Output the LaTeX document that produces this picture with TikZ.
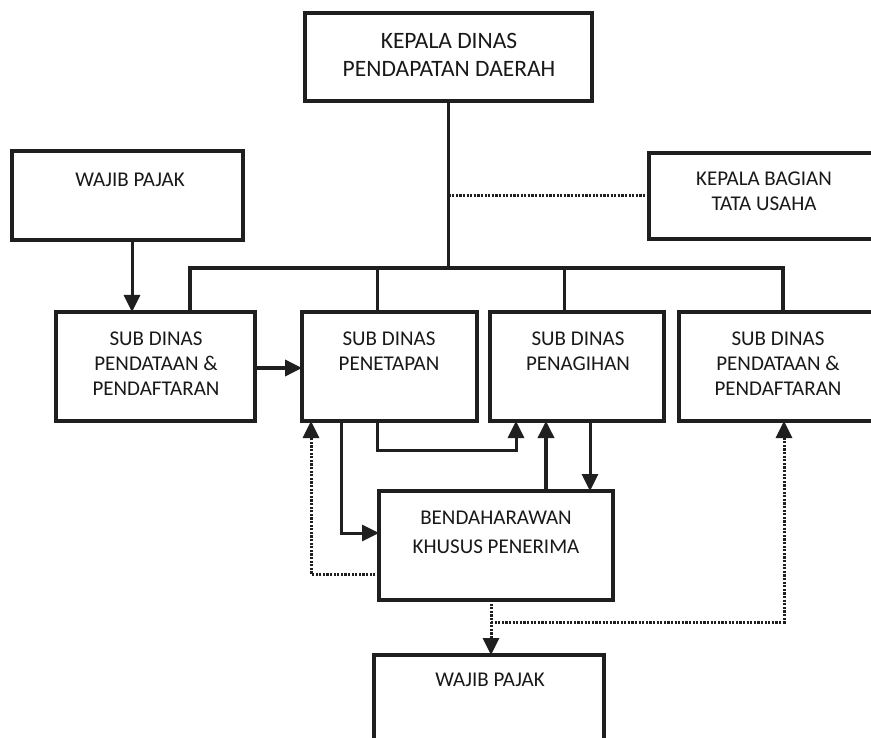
\documentclass[tikz,border=0pt]{standalone}
\usepackage{fontspec}
\setmainfont{Carlito}
\usetikzlibrary{arrows.meta}
\begin{document}
\begin{tikzpicture}[x=1pt,y=-1pt,
  box/.style={draw=black!88, line width=3.2pt, inner sep=0pt, outer sep=0pt},
  txt/.style={anchor=north, inner sep=0pt, align=center, font=\fontsize{21}{25}\selectfont, text=black!90},
  link/.style={line width=3pt, draw=black!88},
  arr/.style={link, -{Triangle[length=17pt,width=16pt]}},
  dotline/.style={line width=3pt, draw=black!88, dash pattern=on 2.2pt off 1.4pt},
  dotarr/.style={dotline, -{Triangle[length=17pt,width=16pt]}},
]
\useasboundingbox (0,0) rectangle (871,738);
\clip (0,0) rectangle (871,738);
\fill[white] (0,0) rectangle (871,738);

% boxes
\node[box, minimum width=287pt, minimum height=88pt] (kd) at (448.5,57) {};
\node[box, minimum width=231pt, minimum height=86pt] (ttu) at (764.5,196) {};
\node[box, minimum width=231pt, minimum height=89pt] (wp1) at (127.5,195.5) {};
\node[box, minimum width=199pt, minimum height=109pt] (s1) at (155.5,366.5) {};
\node[box, minimum width=175pt, minimum height=109pt] (s2) at (389.5,366.5) {};
\node[box, minimum width=174pt, minimum height=109pt] (s3) at (577,366.5) {};
\node[box, minimum width=201pt, minimum height=109pt] (s4) at (779.5,366.5) {};
\node[box, minimum width=234pt, minimum height=109pt] (ben) at (496,545.5) {};
\node[box, minimum width=230pt, minimum height=95pt] (wp2) at (489,702.5) {};

% texts
\node[txt, font=\fontsize{23.5}{28}\selectfont] (kdt) at (449,33) {KEPALA DINAS\\PENDAPATAN DAERAH};
\node[txt] (ttut) at (764,172) {KEPALA BAGIAN\\TATA USAHA};
\node[txt] (wp1t) at (130,173) {WAJIB PAJAK};
\node[txt] (s1t) at (156,332) {SUB DINAS\\PENDATAAN \&\\PENDAFTARAN};
\node[txt] (s2t) at (389,332) {SUB DINAS\\PENETAPAN};
\node[txt] (s3t) at (578,332) {SUB DINAS\\PENAGIHAN};
\node[txt] (s4t) at (778,332) {SUB DINAS\\PENDATAAN \&\\PENDAFTARAN};
\node[txt, font=\fontsize{21}{29}\selectfont] (bent) at (496,511) {BENDAHARAWAN\\KHUSUS PENERIMA};
\node[txt] (wp2t) at (490,673) {WAJIB PAJAK};

% hierarchy
\coordinate (bus) at (448.5,268);
\coordinate (d1) at (190,268);
\coordinate (d2) at (377,268);
\coordinate (d3) at (564,268);
\coordinate (d4) at (783,268);
\draw[link] (kd.south) -- (bus);
\draw[link, line width=3.2pt] (d1 |- s1.north) -- (d1) -- (d4) -- (d4 |- s4.north);
\draw[link] (d2) -- (d2 |- s2.north);
\draw[link] (d3) -- (d3 |- s3.north);
\draw[dotline] (kd.south |- ttu.west) -- (ttu.west);

% flows
\coordinate (a1) at (132,0);
\draw[arr] (a1 |- wp1.south) -- (a1 |- s1.north);
\coordinate (r1) at (0,368);
\draw[arr, line width=3.6pt] (s1.east |- r1) -- (s2.west |- r1);
\coordinate (c6) at (377,450);
\coordinate (c6b) at (516,450);
\draw[arr] (c6 |- s2.south) -- (c6) -- (c6b) -- (c6b |- s3.south);
\coordinate (c7) at (546,0);
\draw[arr, line width=3.6pt] (c7 |- ben.north) -- (c7 |- s3.south);
\coordinate (c8) at (590,0);
\draw[arr] (c8 |- s3.south) -- (c8 |- ben.north);
\coordinate (c9) at (341,533);
\draw[arr] (c9 |- s2.south) -- (c9) -- (ben.west |- c9);
\coordinate (c10) at (311,574);
\draw[dotarr] (ben.west |- c10) -- (c10) -- (c10 |- s2.south);
\coordinate (c11) at (491,622);
\draw[dotarr] (c11 |- ben.south) -- (c11 |- wp2.north);
\coordinate (c12) at (784,622);
\draw[dotarr] (c11) -- (c12) -- (c12 |- s4.south);
\end{tikzpicture}
\end{document}
